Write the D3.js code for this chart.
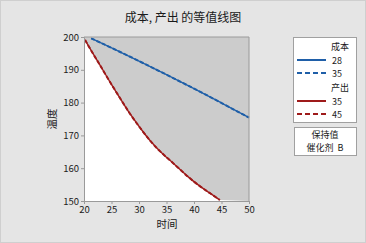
<!DOCTYPE html>
<html>
<head>
<meta charset="utf-8">
<script src="https://cdn.jsdelivr.net/npm/d3@7"></script>
<style>
  body { margin: 0; background: #e5e5e5; }
  svg text { font-family: "Noto Sans CJK SC", "Noto Sans", sans-serif; fill: #1a1a1a; }
</style>
</head>
<body>
<div id="canvas"></div>
<script>
// 成本 contour (28 and 35 lie on top of each other)
const cost_time = [21.3, 25, 30, 35, 40, 45, 50];
const cost_temp = [199.6, 196.7, 192.7, 188.5, 184.3, 179.9, 175.4];
// 产出 contour (35 and 45)
const out_time = [20.2, 21.45, 22.9, 24.7, 26.55, 28.35, 30.2, 32.0, 33.8, 36.2, 38.7, 41.1, 42.9, 44.7];
const out_temp = [199.1, 195.4, 191.5, 186.3, 181.4, 176.5, 172.3, 168.3, 165.1, 161.6, 157.6, 154.4, 152.4, 150.3];

const x_ticks = [20, 25, 30, 35, 40, 45, 50];
const y_ticks = [150, 160, 170, 180, 190, 200];
const cost_levels = ['28', '35'];
const out_levels = ['35', '45'];

const blue = '#1f5fa8';
const red = '#9e1a1a';

const svg = d3.select('#canvas')
  .append('svg')
  .attr('width', 366)
  .attr('height', 243);

svg.append('rect')
  .attr('x', 0.5).attr('y', 0.5)
  .attr('width', 365).attr('height', 242)
  .attr('fill', '#e5e5e5')
  .attr('stroke', '#cfcfcf');

const x = d3.scaleLinear().domain([20, 50]).range([84, 249]);
const y = d3.scaleLinear().domain([150, 200]).range([201, 37]);

svg.append('text')
  .attr('x', 183).attr('y', 22)
  .attr('text-anchor', 'middle')
  .attr('font-size', '12px')
  .text('成本, 产出 的等值线图');

// plot area
svg.append('rect')
  .attr('x', x(20)).attr('y', y(200))
  .attr('width', x(50) - x(20)).attr('height', y(150) - y(200))
  .attr('fill', '#ffffff');

const outPts = out_time.map((d, i) => [d, out_temp[i]]);
const costPts = cost_time.map((d, i) => [d, cost_temp[i]]);

const line = d3.line()
  .x(d => x(d[0]))
  .y(d => y(d[1]))
  .curve(d3.curveBasis);

// shaded region above 产出 contour
svg.append('path')
  .attr('d', line(outPts) + `L${x(50)},${y(150)}L${x(50)},${y(200)}L${x(20)},${y(200)}Z`)
  .attr('fill', '#cccccc');

function contour(pts, color) {
  svg.append('path')
    .attr('d', line(pts))
    .attr('fill', 'none')
    .attr('stroke', color)
    .attr('stroke-width', 1.4);
  svg.append('path')
    .attr('d', line(pts))
    .attr('fill', 'none')
    .attr('stroke', color)
    .attr('stroke-width', 2)
    .attr('stroke-dasharray', '4,2');
}
contour(costPts, blue);
contour(outPts, red);

// axes
const xAxis = svg.append('g')
  .attr('transform', `translate(0,${y(150)})`)
  .call(d3.axisBottom(x).tickValues(x_ticks).tickSize(3).tickPadding(2));
const yAxis = svg.append('g')
  .attr('transform', `translate(${x(20)},0)`)
  .call(d3.axisLeft(y).tickValues(y_ticks).tickSize(3).tickPadding(2));
[xAxis, yAxis].forEach(g => {
  g.select('.domain').attr('stroke', '#9a9a9a');
  g.selectAll('.tick line').attr('stroke', '#9a9a9a');
  g.selectAll('.tick text')
    .attr('font-size', '9.5px')
    .attr('font-family', '"Noto Sans", sans-serif')
    .attr('fill', '#1a1a1a');
});

// border top/right
svg.append('path')
  .attr('d', `M${x(20)},${y(200)}H${x(50)}V${y(150)}`)
  .attr('fill', 'none')
  .attr('stroke', '#9a9a9a');

svg.append('text')
  .attr('x', 167).attr('y', 228)
  .attr('text-anchor', 'middle')
  .attr('font-size', '10.5px')
  .text('时间');

svg.append('text')
  .attr('transform', 'translate(56,119) rotate(-90)')
  .attr('text-anchor', 'middle')
  .attr('font-size', '10.5px')
  .text('温度');

// legend
const lg = svg.append('g');
lg.append('rect')
  .attr('x', 293.5).attr('y', 37.5)
  .attr('width', 63).attr('height', 85)
  .attr('fill', '#ffffff').attr('stroke', '#a0a0a0');

function legendGroup(title, levels, color, y0) {
  lg.append('text')
    .attr('x', 349).attr('y', y0)
    .attr('text-anchor', 'end')
    .attr('font-size', '9px')
    .text(title);
  levels.forEach((lv, i) => {
    const yy = y0 + 10 + i * 13;
    lg.append('line')
      .attr('x1', 297).attr('x2', 326)
      .attr('y1', yy).attr('y2', yy)
      .attr('stroke', color)
      .attr('stroke-width', 2)
      .attr('stroke-dasharray', i === 0 ? null : '5,3');
    lg.append('text')
      .attr('x', 332).attr('y', yy + 4)
      .attr('font-size', '9px')
      .attr('font-family', '"Noto Sans", sans-serif')
      .text(lv);
  });
}
legendGroup('成本', cost_levels, blue, 50);
legendGroup('产出', out_levels, red, 91);

lg.append('rect')
  .attr('x', 294.5).attr('y', 127.5)
  .attr('width', 62).attr('height', 28)
  .attr('fill', '#ffffff').attr('stroke', '#a0a0a0');
lg.append('text')
  .attr('x', 325).attr('y', 138)
  .attr('text-anchor', 'middle')
  .attr('font-size', '9px')
  .text('保持值');
lg.append('text')
  .attr('x', 325).attr('y', 151)
  .attr('text-anchor', 'middle')
  .attr('font-size', '9px')
  .text('催化剂\u00a0\u00a0B');
</script>
</body>
</html>
